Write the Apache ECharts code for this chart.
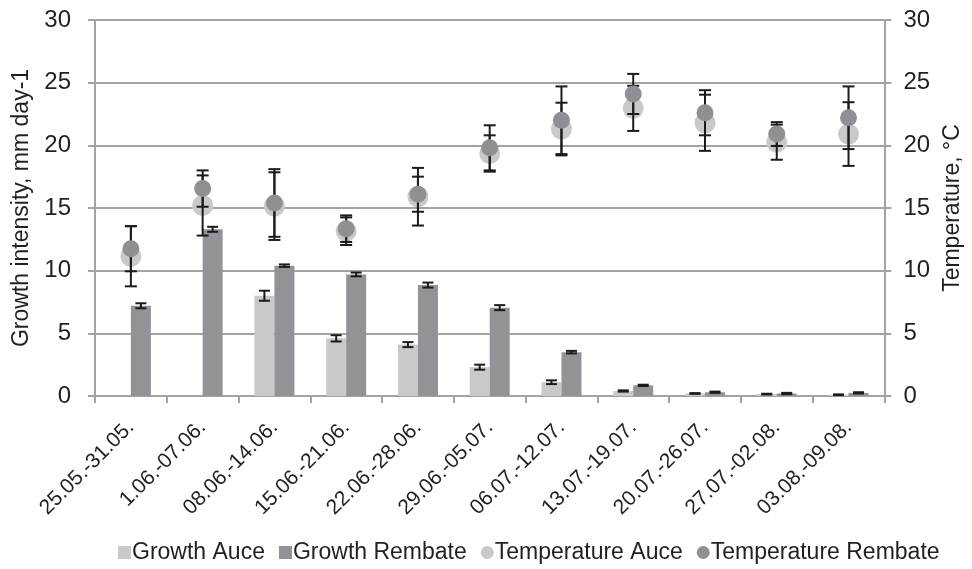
<!DOCTYPE html>
<html>
<head>
<meta charset="utf-8">
<script src="https://cdn.jsdelivr.net/npm/echarts@6/dist/echarts.min.js"></script>
<style>html,body{margin:0;padding:0;background:#fff;}#main{width:972px;height:569px;}</style>
</head>
<body>
<div id="main"></div>
<script>
var categories = ['25.05.-31.05.', '1.06.-07.06.', '08.06.-14.06.', '15.06.-21.06.', '22.06.-28.06.', '29.06.-05.07.', '06.07.-12.07.', '13.07.-19.07.', '20.07.-26.07.', '27.07.-02.08.', '03.08.-09.08.'];
var growthAuce = [null, null, 8.0, 4.6, 4.1, 2.3, 1.1, 0.4, 0.2, 0.15, 0.1];
var growthAuceErr = [null, null, 0.4, 0.25, 0.2, 0.2, 0.15, 0.05, 0.03, 0.03, 0.03];
var growthRembate = [7.2, 13.3, 10.4, 9.7, 8.85, 7.05, 3.5, 0.85, 0.3, 0.2, 0.25];
var growthRembateErr = [0.2, 0.2, 0.1, 0.15, 0.2, 0.2, 0.1, 0.05, 0.05, 0.05, 0.05];
var tempAuce = [11.15, 15.2, 15.15, 13.15, 15.9, 19.35, 21.3, 22.95, 21.8, 20.25, 20.9];
var tempAuceErr = [2.4, 2.4, 2.7, 1.1, 2.3, 1.45, 2.1, 1.8, 2.24, 1.4, 2.54];
var tempRembate = [11.75, 16.55, 15.4, 13.35, 16.1, 19.8, 22.0, 24.1, 22.6, 20.9, 22.2];
var tempRembateErr = [1.8, 1.45, 2.7, 1.06, 1.4, 1.8, 2.7, 1.6, 1.8, 0.95, 2.5];
var yTicks = [0, 5, 10, 15, 20, 25, 30];

var LIGHT = '#c8c9cb', DARK = '#929397', TXT = '#231f20', AX = '#a3a3a3';
var BAR_W = 20;

function errData(vals, errs) {
  var out = [];
  for (var i = 0; i < vals.length; i++) {
    if (vals[i] == null) continue;
    out.push([i, vals[i] - errs[i], vals[i] + errs[i]]);
  }
  return out;
}
function errRender(offset, cap) {
  return function (params, api) {
    var lo = api.coord([api.value(0), api.value(1)]);
    var hi = api.coord([api.value(0), api.value(2)]);
    var x = lo[0] + offset;
    var st = { stroke: '#1e1a1b', lineWidth: 2 };
    return {
      type: 'group',
      children: [
        { type: 'line', shape: { x1: x, y1: lo[1], x2: x, y2: hi[1] }, style: st },
        { type: 'line', shape: { x1: x - cap / 2, y1: lo[1], x2: x + cap / 2, y2: lo[1] }, style: st },
        { type: 'line', shape: { x1: x - cap / 2, y1: hi[1], x2: x + cap / 2, y2: hi[1] }, style: st }
      ]
    };
  };
}

var chart = echarts.init(document.getElementById('main'), null, { renderer: 'canvas' });
var font = 'Liberation Sans, Arial, sans-serif';
var yAxisCommon = {
  type: 'value', min: 0, max: 30, interval: 5,
  nameLocation: 'middle',
  nameTextStyle: { fontSize: 23, color: TXT, fontFamily: font },
  axisLine: { show: true, lineStyle: { color: AX, width: 2 } },
  axisTick: { show: true, length: 7, lineStyle: { color: AX, width: 2 } },
  axisLabel: { fontSize: 24, color: TXT, fontFamily: font,
    formatter: function (v) { return yTicks.indexOf(v) >= 0 ? String(v) : ''; } }
};
chart.setOption({
  animation: false,
  textStyle: { fontFamily: font },
  grid: { left: 95, right: 79, top: 20, bottom: 173, containLabel: false },
  legend: {
    bottom: 0, left: 113, itemGap: 14, itemWidth: 13, itemHeight: 13,
    textStyle: { fontSize: 23, color: TXT, fontFamily: font, padding: [0, 0, 0, -4] },
    data: [
      { name: 'Growth Auce', icon: 'rect' },
      { name: 'Growth Rembate', icon: 'rect' },
      { name: 'Temperature Auce', icon: 'circle' },
      { name: 'Temperature Rembate', icon: 'circle' }
    ]
  },
  xAxis: {
    type: 'category', data: categories, boundaryGap: true,
    axisLine: { lineStyle: { color: AX, width: 2 } },
    axisTick: { show: true, alignWithLabel: false, length: 7, lineStyle: { color: AX, width: 2 } },
    axisLabel: { rotate: 45, interval: 0, fontSize: 21, color: TXT, fontFamily: font, margin: 28 },
    splitLine: { show: false }
  },
  yAxis: [
    Object.assign({}, yAxisCommon, {
      name: 'Growth intensity, mm day-1', nameGap: 62, position: 'left',
      axisLabel: Object.assign({}, yAxisCommon.axisLabel, { margin: 24 }),
      splitLine: { show: true, lineStyle: { color: AX, width: 2 } }
    }),
    Object.assign({}, yAxisCommon, {
      name: 'Temperature, °C', nameGap: 54, position: 'right',
      axisLabel: Object.assign({}, yAxisCommon.axisLabel, { margin: 19 }),
      splitLine: { show: false }
    })
  ],
  series: [
    { name: 'Growth Auce', type: 'bar', data: growthAuce, barWidth: BAR_W, barGap: '0%',
      itemStyle: { color: LIGHT }, z: 2 },
    { name: 'Growth Rembate', type: 'bar', data: growthRembate, barWidth: BAR_W, barGap: '0%',
      itemStyle: { color: DARK }, z: 2 },
    { name: 'errGA', type: 'custom', data: errData(growthAuce, growthAuceErr),
      renderItem: errRender(-BAR_W / 2, 11), encode: { x: 0, y: [1, 2] }, z: 3, silent: true },
    { name: 'errGR', type: 'custom', data: errData(growthRembate, growthRembateErr),
      renderItem: errRender(BAR_W / 2, 11), encode: { x: 0, y: [1, 2] }, z: 3, silent: true },
    { name: 'Temperature Auce', type: 'scatter', yAxisIndex: 1, data: tempAuce, symbol: 'circle',
      symbolSize: 21, itemStyle: { color: LIGHT, opacity: 1 }, z: 4 },
    { name: 'errTA', type: 'custom', yAxisIndex: 1, data: errData(tempAuce, tempAuceErr),
      renderItem: errRender(0, 12), encode: { x: 0, y: [1, 2] }, z: 5, silent: true },
    { name: 'errTR', type: 'custom', yAxisIndex: 1, data: errData(tempRembate, tempRembateErr),
      renderItem: errRender(0, 12), encode: { x: 0, y: [1, 2] }, z: 5, silent: true },
    { name: 'Temperature Rembate', type: 'scatter', yAxisIndex: 1, data: tempRembate, symbol: 'circle',
      symbolSize: 17, itemStyle: { color: '#8f9094', opacity: 1 }, z: 6 }
  ]
});
</script>
</body>
</html>
